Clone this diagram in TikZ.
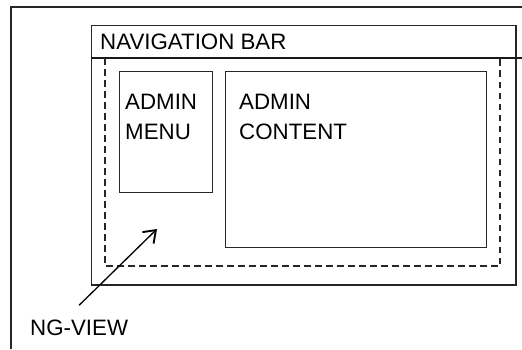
\documentclass[tikz,border=0pt]{standalone}
\usepackage{fontspec}
\setmainfont{Liberation Sans}
\usetikzlibrary{arrows.meta}
\begin{document}
\begin{tikzpicture}[x=1pt,y=1pt,
  frame/.style={draw=black!85,line width=1.5pt},
  box/.style={draw=black!85,line width=1.4pt,inner sep=0pt},
  lbl/.style={font=\fontsize{22.3}{26}\selectfont,inner sep=0pt,anchor=base west},
  dashline/.style={draw=black!85,line width=1.4pt,dash pattern=on 6.5pt off 4.5pt}]
\useasboundingbox (0,0) rectangle (522,349);
\fill[white] (0,0) rectangle (522,349);
% outer frame (only top and left edges visible)
\draw[frame] (11,0) -- (11,342) -- (522,342);
% navigation box
\node[box,line width=1.5pt,minimum width=424.5pt,minimum height=259pt,anchor=north west] (nav) at (90.5,324) {};
\coordinate (divl) at (90.5,291);
\coordinate (divr) at (522,291);
\draw[line width=1.8pt,black!90] (divl) -- (divr);
\node[lbl] (navt) at (100,299) {NAVIGATION BAR};
% ng-view dashed region
\draw[dashline] (105,291) -- (105,83) -- (500,83) -- (500,291);
% admin menu
\node[box,minimum width=93pt,minimum height=121pt,anchor=north west] (menu) at (119,278) {};
\node[lbl] (menut1) at (125,240) {ADMIN};
\node[lbl] (menut2) at (125,210) {MENU};
% admin content
\node[box,minimum width=261pt,minimum height=176pt,anchor=north west] (content) at (225,278) {};
\node[lbl] (contt1) at (239,240) {ADMIN};
\node[lbl] (contt2) at (239,210) {CONTENT};
% ng-view label and arrow
\node[lbl] (ng) at (30,14) {NG-VIEW};
\coordinate (ngtip) at (157,120);
\draw[line width=1.3pt,-{Straight Barb[length=11pt,width=16pt,line width=1.9pt]}] ([yshift=14pt]ng.north) -- (ngtip);
\end{tikzpicture}
\end{document}
